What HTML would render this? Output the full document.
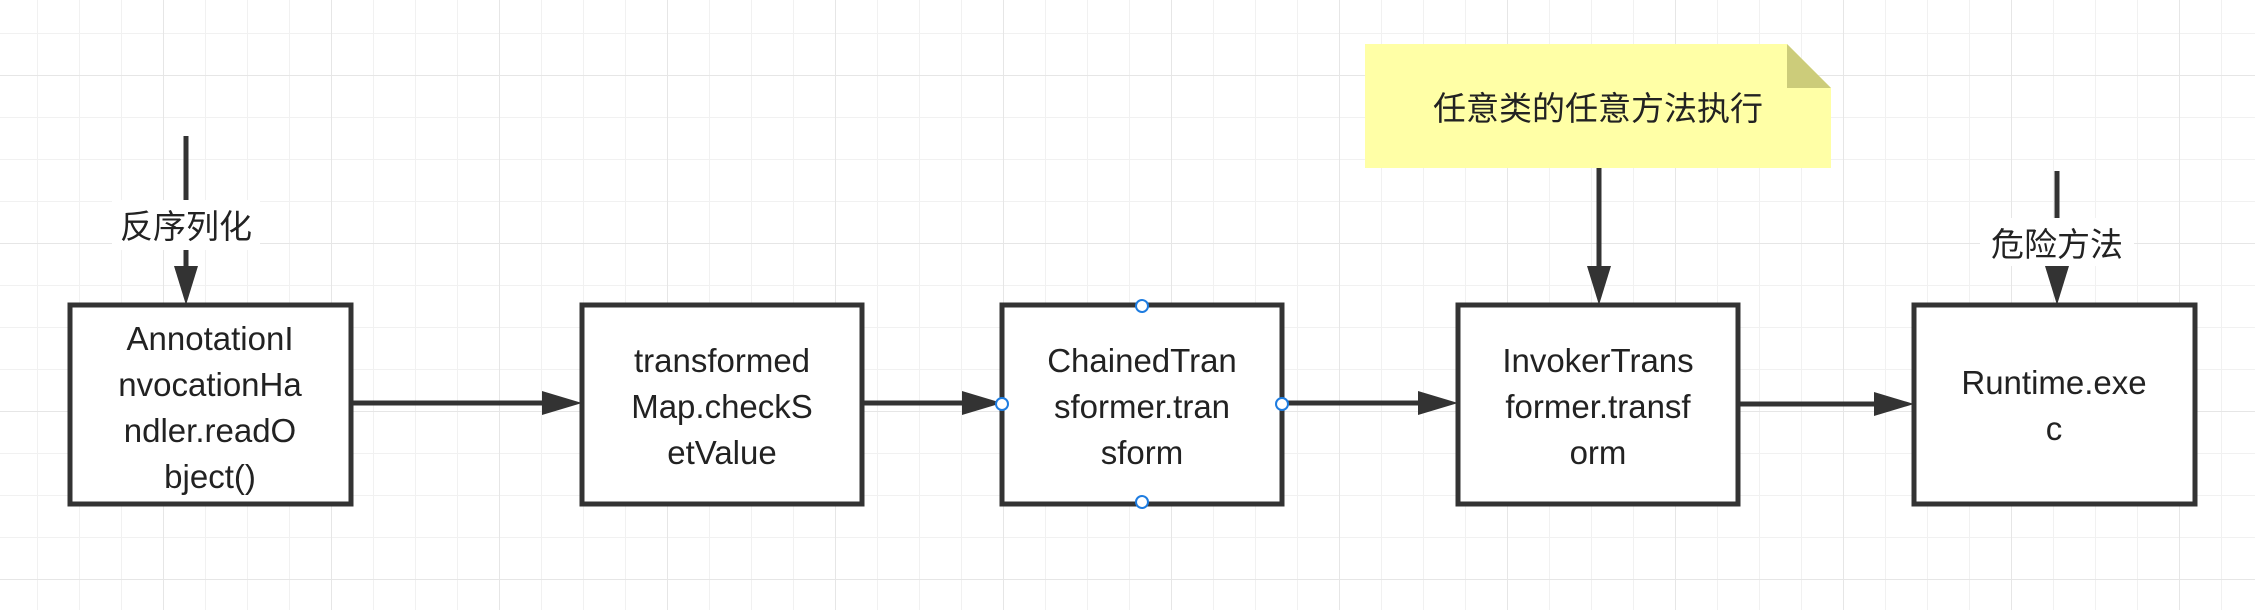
<!DOCTYPE html>
<html><head><meta charset="utf-8"><style>
html,body{margin:0;padding:0;background:#fff;}
svg text{font-family:"Liberation Sans","Noto Sans CJK SC",sans-serif;}
</style></head><body>
<svg width="2255" height="610" xmlns="http://www.w3.org/2000/svg">
<defs>
<pattern id="g" x="-5" y="-9" width="42" height="42" patternUnits="userSpaceOnUse">
<path d="M0 0H42M0 0V42" stroke="#f1f1f1" stroke-width="2" fill="none"/>
</pattern>
<pattern id="G" x="-5" y="-93" width="168" height="168" patternUnits="userSpaceOnUse">
<path d="M0 0H168M0 0V168" stroke="#e6e6e6" stroke-width="2" fill="none"/>
</pattern>
</defs>
<rect width="2255" height="610" fill="#fff"/>
<rect width="2255" height="610" fill="url(#g)"/>
<rect width="2255" height="610" fill="url(#G)"/>

<g stroke="#333" stroke-width="5" fill="none">
<line x1="186" y1="136" x2="186" y2="270"/>
<line x1="351" y1="403" x2="545" y2="403"/>
<line x1="862" y1="403" x2="962" y2="403"/>
<line x1="1282" y1="403" x2="1420" y2="403"/>
<line x1="1738" y1="404" x2="1876" y2="404"/>
<line x1="1599" y1="168" x2="1599" y2="270"/>
<line x1="2057" y1="171" x2="2057" y2="270"/>
</g>
<g fill="#333">
<polygon points="174,266 198,266 186,305"/>
<polygon points="542,391 542,415 582,403"/>
<polygon points="962,391 962,415 1002,403"/>
<polygon points="1418,391 1418,415 1458,403"/>
<polygon points="1874,392 1874,416 1914,404"/>
<polygon points="1587,266 1611,266 1599,305"/>
<polygon points="2045,266 2069,266 2057,305"/>
</g>
<rect x="112" y="200" width="148" height="50" fill="#fff"/>
<text x="186" y="238" font-size="33" text-anchor="middle" fill="#222">反序列化</text>
<rect x="1980" y="218" width="154" height="48" fill="#fff"/>
<text x="2057" y="256" font-size="33" text-anchor="middle" fill="#222">危险方法</text>

<polygon points="1365,44 1787,44 1831,88 1831,168 1365,168" fill="#ffffa6"/>
<polygon points="1787,44 1831,88 1787,88" fill="#cccc7a"/>
<text x="1598" y="120" font-size="33" text-anchor="middle" fill="#222">任意类的任意方法执行</text>

<g fill="#fff" stroke="#333" stroke-width="5">
<rect x="70" y="305" width="281" height="199"/>
<rect x="582" y="305" width="280" height="199"/>
<rect x="1002" y="305" width="280" height="199"/>
<rect x="1458" y="305" width="280" height="199"/>
<rect x="1914" y="305" width="281" height="199"/>
</g>
<g font-size="33" text-anchor="middle" fill="#222">
<text x="210" y="350">AnnotationI</text>
<text x="210" y="396">nvocationHa</text>
<text x="210" y="442">ndler.readO</text>
<text x="210" y="488">bject()</text>
<text x="722" y="372">transformed</text>
<text x="722" y="418">Map.checkS</text>
<text x="722" y="464">etValue</text>
<text x="1142" y="372">ChainedTran</text>
<text x="1142" y="418">sformer.tran</text>
<text x="1142" y="464">sform</text>
<text x="1598" y="372">InvokerTrans</text>
<text x="1598" y="418">former.transf</text>
<text x="1598" y="464">orm</text>
<text x="2054" y="394">Runtime.exe</text>
<text x="2054" y="440">c</text>
</g>
<g fill="#fff" stroke="#1e7ce0" stroke-width="2">
<circle cx="1142" cy="306" r="6"/>
<circle cx="1142" cy="502" r="6"/>
<circle cx="1002" cy="404" r="6"/>
<circle cx="1282" cy="404" r="6"/>
</g>
</svg>
</body></html>
